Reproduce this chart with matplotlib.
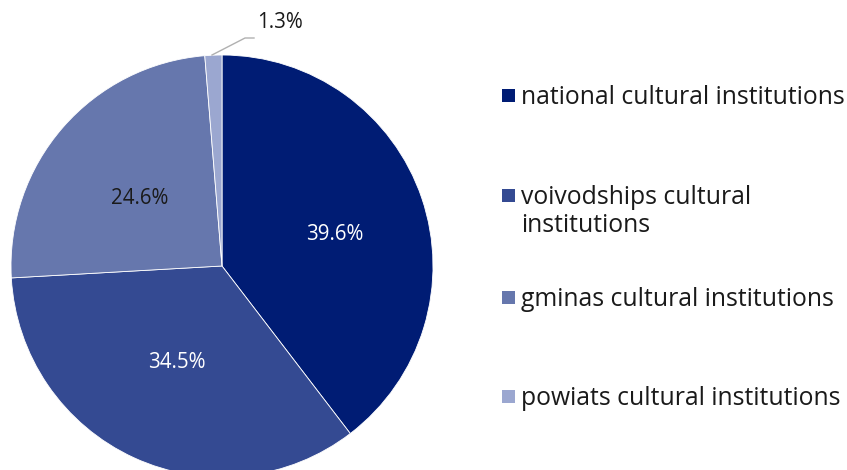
import matplotlib.pyplot as plt
import matplotlib.patches as patches

categories = ['national cultural institutions', 'voivodships cultural\ninstitutions',
              'gminas cultural institutions', 'powiats cultural institutions']
shares = [39.6, 34.5, 24.6, 1.3]
colors = ['#001c74', '#344a92', '#6677ad', '#9ba7d0']
label_colors = ['white', 'white', '#1a1a1a', '#1a1a1a']

plt.rcParams['font.family'] = ['Open Sans', 'DejaVu Sans']

W, H = 847, 470
fig = plt.figure(figsize=(W / 100, H / 100), dpi=100)
ax = fig.add_axes([0, 0, 1, 1])

# pie in pixel coordinates (y measured from bottom)
cx, cy, r = 222, H - 266, 211
wedges, _ = ax.pie(shares, colors=colors, startangle=90, counterclock=False,
                   center=(cx, cy), radius=r,
                   wedgeprops=dict(edgecolor='white', linewidth=0.6))
ax.set_xlim(0, W)
ax.set_ylim(0, H)
ax.set_aspect('auto')
ax.axis('off')

# percent labels inside the big slices
label_pos = [(335, 235), (177, 362), (140, 198)]
for (x, y), v, c in zip(label_pos, shares[:3], label_colors[:3]):
    ax.text(x, H - y, f'{v}%', color=c, fontsize=14.8, ha='center', va='center')

# small slice: leader line and outside label
ax.plot([212, 245, 254], [H - 55, H - 38, H - 38], color='#b0b0b0', lw=1)
ax.text(280, H - 23, f'{shares[3]}%', color='#1a1a1a', fontsize=14.8,
        ha='center', va='center')

# legend drawn by hand (baselines in pixels from top)
leg_base = [104, 204, 306, 405]
for name, c, b in zip(categories, colors, leg_base):
    ax.add_patch(patches.Rectangle((502, H - b + 2), 13, 13, color=c, lw=0))
    for i, line in enumerate(name.split('\n')):
        ax.text(521, H - b - 28 * i, line, fontsize=17.8, color='#1a1a1a',
                ha='left', va='baseline')

fig.savefig('out.png', dpi=100)
